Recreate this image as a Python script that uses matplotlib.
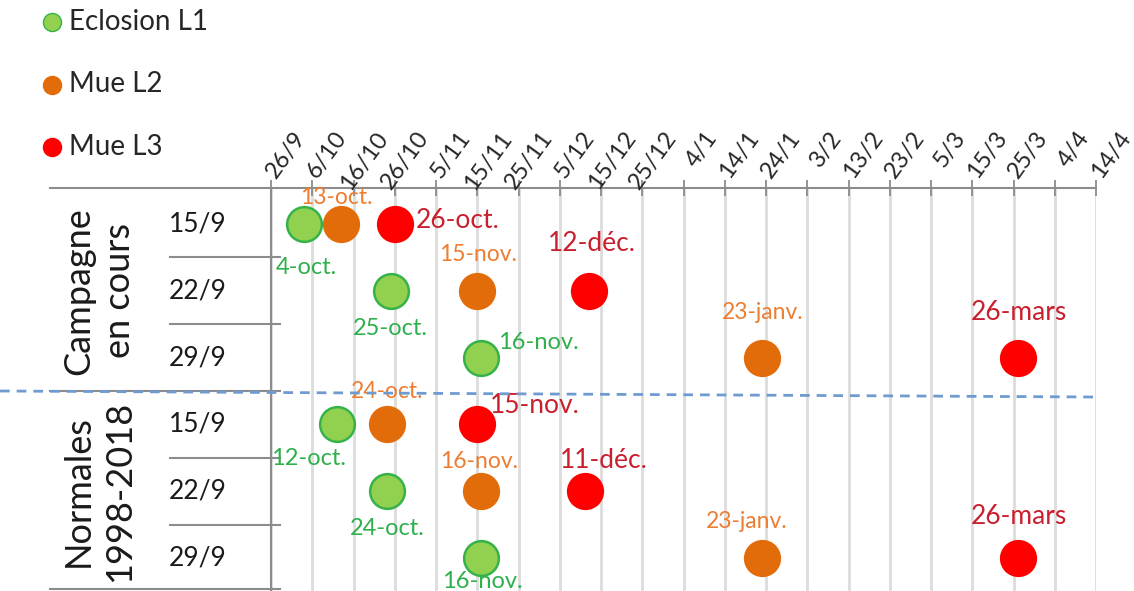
import pandas as pd
import matplotlib
matplotlib.use("Agg")
import matplotlib.pyplot as plt
import matplotlib.dates as mdates
from matplotlib.lines import Line2D
from matplotlib.transforms import blended_transform_factory

plt.rcParams['font.family'] = ['Lato', 'DejaVu Sans']

# --- data (season 2018-2019) ---
groups = ["Campagne\nen cours", "Normales\n1998-2018"]
sowing = ["15/9", "22/9", "29/9", "15/9", "22/9", "29/9"]

eclosion_l1 = ["2018-10-04", "2018-10-25", "2018-11-16", "2018-10-12", "2018-10-24", "2018-11-16"]
mue_l2 = ["2018-10-13", "2018-11-15", "2019-01-23", "2018-10-24", "2018-11-16", "2019-01-23"]
mue_l3 = ["2018-10-26", "2018-12-12", "2019-03-26", "2018-11-15", "2018-12-11", "2019-03-26"]

tick_labels = ["26/9", "6/10", "16/10", "26/10", "5/11", "15/11", "25/11", "5/12",
               "15/12", "25/12", "4/1", "14/1", "24/1", "3/2", "13/2", "23/2",
               "5/3", "15/3", "25/3", "4/4", "14/4"]

month_fr = {9: "sept.", 10: "oct.", 11: "nov.", 12: "déc.", 1: "janv.", 2: "févr.",
            3: "mars", 4: "avr."}


def tick_to_date(lbl):
    d, m = lbl.split("/")
    year = 2018 if int(m) >= 9 else 2019
    return pd.Timestamp(year=year, month=int(m), day=int(d))


def fr_label(ts):
    return f"{ts.day}-{month_fr[ts.month]}"


series = [
    ("Eclosion L1", eclosion_l1, "#92d050", "#35b34a", "#2eb04c", 17),
    ("Mue L2", mue_l2, "#e36c0a", "#e36c0a", "#ed7d31", 16.5),
    ("Mue L3", mue_l3, "#ff0000", "#ff0000", "#c9202f", 19),
]

# label placement (pixels from the marker, dy up) -- layout only
offsets = {
    "Eclosion L1": [(2, -44, 'center'), (0, -38, 'center'), (17, 15, 'left'),
                    (-28, -34, 'center'), (1, -37, 'center'), (1, -24, 'center')],
    "Mue L2": [(-5, 27, 'center'), (1, 36, 'center'), (1, 45, 'center'),
               (1, 33, 'center'), (-2, 30, 'center'), (-15, 36, 'center')],
    "Mue L3": [(21, 4, 'left'), (3, 47, 'center'), (1, 45, 'center'),
               (13, 19, 'left'), (19, 31, 'center'), (1, 42, 'center')],
}

W, H = 1134, 591
fig = plt.figure(figsize=(W / 100, H / 100), dpi=100)
ax = fig.add_axes([271 / W, 0, (1096 - 271) / W, 403 / H])

tick_dates = [tick_to_date(t) for t in tick_labels]
tick_x = mdates.date2num(tick_dates)
rows = list(range(len(sowing)))

for name, dates, face, edge, tcolor, fs in series:
    ts = pd.to_datetime(dates)
    xs = mdates.date2num(ts)
    ax.plot(xs, rows, 'o', ms=25, mfc=face, mec=edge, mew=1.8, ls='none', zorder=3,
            clip_on=False)
    for i, (x, t) in enumerate(zip(xs, ts)):
        dx, dy, ha = offsets[name][i]
        ax.annotate(fr_label(t), (x, rows[i]), xytext=(dx, dy), textcoords='offset pixels',
                    ha=ha, va='center', color=tcolor, fontsize=fs, zorder=4)

ax.set_xlim(tick_x[0], tick_x[-1])
ax.set_ylim(5 + 33 / 66.8, -36 / 66.8)

ax.xaxis.tick_top()
ax.set_xticks(tick_x)
ax.set_xticklabels([])
ax.tick_params(axis='x', direction='inout', length=12, width=1.3, color='#8c8c8c')
# rotated date labels, right-aligned at a common height like the original
for x, lbl in zip(tick_x, tick_labels):
    ax.annotate(lbl, (x, 1), xycoords=ax.get_xaxis_transform(), xytext=(30, 54),
                textcoords='offset pixels', rotation=54, rotation_mode='anchor',
                ha='right', va='center', fontsize=17, color='#262626',
                annotation_clip=False)
ax.set_yticks([])
ax.grid(axis='x', color='#dcdcdc', lw=2, zorder=0)
for s in ['right', 'bottom']:
    ax.spines[s].set_visible(False)
for s in ['top', 'left']:
    ax.spines[s].set_color('#8c8c8c')
    ax.spines[s].set_linewidth(1.5)

# left side table
fx_data = blended_transform_factory(fig.transFigure, ax.transData)
fx_axes = blended_transform_factory(fig.transFigure, ax.transAxes)
ax.plot([50 / W, 271 / W], [1, 1], transform=fx_axes, color='#8c8c8c', lw=1.5, clip_on=False)
for y in [0.5, 1.5, 3.5, 4.5]:
    ax.plot([170 / W, 280 / W], [y, y], transform=fx_data, color='#8c8c8c', lw=1.5,
            clip_on=False)
for y in [2.5, 5.47]:
    ax.plot([50 / W, 280 / W], [y, y], transform=fx_data, color='#8c8c8c', lw=1.5,
            clip_on=False)

for i, s in enumerate(sowing):
    ax.text(198 / W, rows[i], s, transform=fx_data, ha='center', va='center',
            fontsize=19, color='#1a1a1a')
for g, lbl in enumerate(groups):
    ax.text(99 / W, 1 + 3 * g, lbl, transform=fx_data, rotation=90, ha='center',
            va='center', multialignment='center', fontsize=26, linespacing=1.3,
            color='#1a1a1a')

# dashed separator between the two blocks
fig.add_artist(Line2D([0, 1094 / W], [1 - 391 / H, 1 - 397 / H], transform=fig.transFigure,
                      color='#6f9bd1', lw=2, dashes=(3.5, 2.5)))

# legend, drawn by hand to keep the wide spacing of the original
for k, (name, _, face, edge, _, _) in enumerate(series):
    y = 1 - (22 + 62.5 * k) / H
    fig.add_artist(Line2D([52 / W], [y], transform=fig.transFigure, marker='o', ms=13,
                          mfc=face, mec=edge, mew=1, ls='none'))
    fig.text(69 / W, y, name, ha='left', va='center', fontsize=20, color='#262626')

fig.savefig("out.png", dpi=100)
